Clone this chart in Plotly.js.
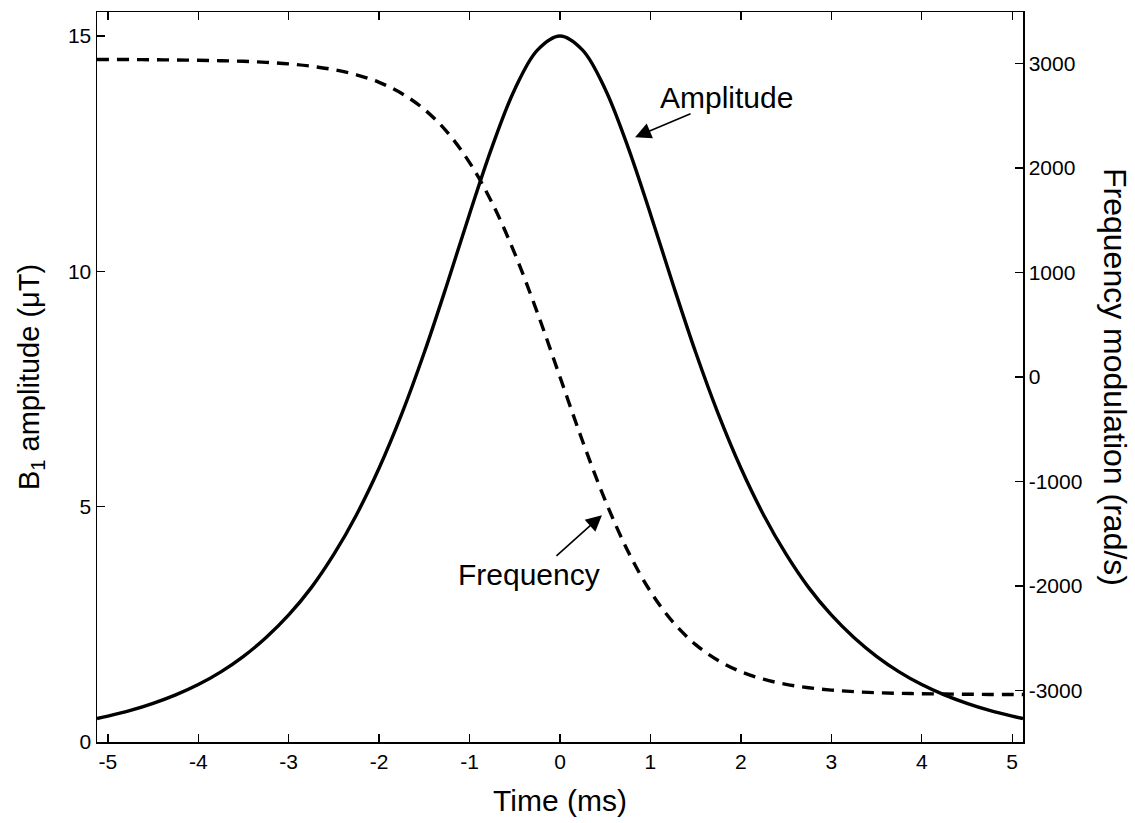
<!DOCTYPE html>
<html><head><meta charset="utf-8">
<script src="https://cdn.plot.ly/plotly-3.0.1.min.js"></script>
<style>html,body{margin:0;padding:0;background:#fff}#chart{width:1135px;height:823px}</style>
</head><body><div id="chart"></div>
<script>
// Time axis (ms)
var timeMs = [-5.12,-5,-4.75,-4.5,-4.25,-4,-3.75,-3.5,-3.25,-3,-2.75,-2.5,-2.25,-2,-1.75,-1.5,-1.25,-1,-0.75,-0.5,-0.25,0,
              0.25,0.5,0.75,1,1.25,1.5,1.75,2,2.25,2.5,2.75,3,3.25,3.5,3.75,4,4.25,4.5,4.75,5,5.12];
// B1 amplitude (uT)
var amplitude = [0.50,0.55,0.67,0.82,1.00,1.22,1.49,1.82,2.22,2.70,3.28,3.99,4.83,5.82,6.97,8.28,9.72,11.22,12.65,13.87,14.70,15.0,
                 14.70,13.87,12.65,11.22,9.72,8.28,6.97,5.82,4.83,3.99,3.28,2.70,2.22,1.82,1.49,1.22,1.00,0.82,0.67,0.55,0.50];
// Frequency modulation (rad/s)
var frequency = [3039,3038,3038,3036,3034,3031,3027,3021,3011,2996,2974,2941,2892,2820,2713,2561,2346,2052,1665,1181,615,0,
                 -615,-1181,-1665,-2052,-2346,-2561,-2713,-2820,-2892,-2941,-2974,-2996,-3011,-3021,-3027,-3031,-3034,-3036,-3038,-3038,-3039];
var xTicks = [-5,-4,-3,-2,-1,0,1,2,3,4,5];
var xTickText = ['-5','-4','-3','-2','-1','0','1','2','3','4','5'];
var yLeftTicks = [0,5,10,15];
var yRightTicks = [-3000,-2000,-1000,0,1000,2000,3000];
var yRightText = ['-3000','-2000','-1000','0','1000','2000','3000'];

var font = 'Liberation Sans, Arial, Helvetica, sans-serif';
var traces = [
  {x: timeMs, y: amplitude, mode:'lines', line:{color:'#000', width:3.4, shape:'spline', smoothing:1}, yaxis:'y', hoverinfo:'skip', showlegend:false},
  {x: timeMs, y: frequency, mode:'lines', line:{color:'#000', width:3.4, dash:'12px,8px', shape:'spline', smoothing:1}, yaxis:'y2', hoverinfo:'skip', showlegend:false}
];
var layout = {
  width:1135, height:823,
  margin:{l:97, r:112, t:12, b:81},
  paper_bgcolor:'#fff', plot_bgcolor:'#fff',
  font:{family:font, color:'#000', size:21},
  showlegend:false,
  xaxis:{range:[-5.12,5.12], tickvals:xTicks, ticktext:xTickText, ticks:'inside', ticklen:8, tickwidth:1.3, tickcolor:'#000',
    showline:true, linecolor:'#000', linewidth:1.5, mirror:'ticks', showgrid:false, zeroline:false,
    tickfont:{size:21}, title:{text:'Time (ms)', font:{size:30}, standoff:18}},
  yaxis:{range:[0,15.51], tickvals:yLeftTicks, ticks:'inside', ticklen:8, tickwidth:1.3, tickcolor:'#000',
    showline:true, linecolor:'#000', linewidth:1.5, mirror:true, showgrid:false, zeroline:false,
    tickfont:{size:21}, title:{text:'B<sub>1</sub> amplitude (μT)', font:{size:29}, standoff:20}},
  yaxis2:{range:[-3493,3493], tickvals:yRightTicks, ticktext:yRightText, overlaying:'y', side:'right', ticks:'inside', ticklen:8, tickwidth:1.3, tickcolor:'#000',
    showline:true, linecolor:'#000', linewidth:1.5, showgrid:false, zeroline:false, tickfont:{size:21}},
  annotations:[
    {x:0.83, y:12.85, xref:'x', yref:'y', ax:57, ay:-24, text:'', showarrow:true, arrowhead:2, arrowsize:2, arrowwidth:1.6, arrowcolor:'#000'},
    {x:1.845, y:13.70, xref:'x', yref:'y', text:'Amplitude', showarrow:false, font:{size:30}},
    {x:0.464, y:4.82, xref:'x', yref:'y', ax:-47, ay:42, text:'', showarrow:true, arrowhead:2, arrowsize:2, arrowwidth:1.6, arrowcolor:'#000'},
    {x:-0.343, y:3.55, xref:'x', yref:'y', text:'Frequency', showarrow:false, font:{size:30}},
    {x:1.0, y:0.5, xref:'paper', yref:'paper', xshift:92, text:'Frequency modulation (rad/s)', textangle:90, showarrow:false, font:{size:32}, xanchor:'center', yanchor:'middle'}
  ]
};
Plotly.newPlot('chart', traces, layout, {staticPlot:true, displayModeBar:false});
</script></body></html>
